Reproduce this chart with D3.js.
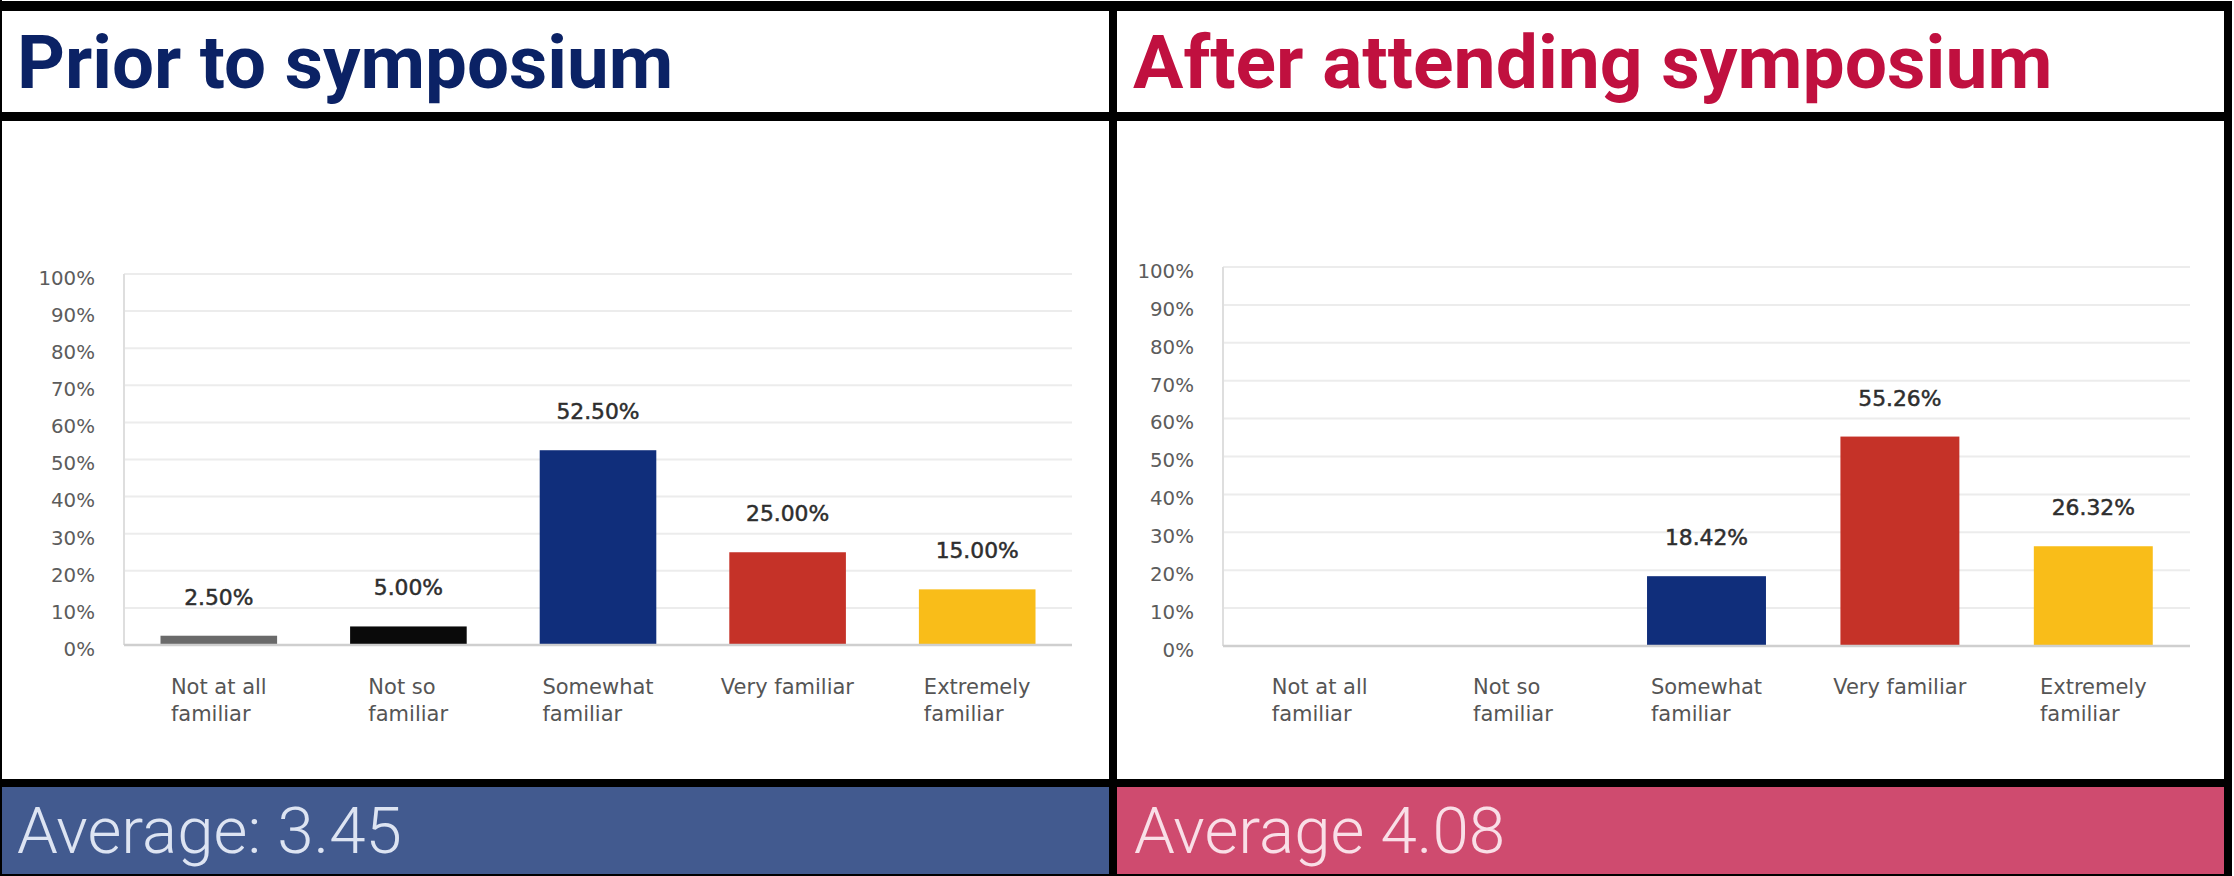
<!DOCTYPE html>
<html>
<head>
<meta charset="utf-8">
<script src="https://cdn.jsdelivr.net/npm/d3@7"></script>
<style>
  html, body { margin: 0; padding: 0; background: #ffffff; }
  svg { display: block; }
</style>
</head>
<body>
<svg id="chart" width="2234" height="876"></svg>
<script>
// ---------- DATA ----------
const categories = ["Not at all familiar", "Not so familiar", "Somewhat familiar", "Very familiar", "Extremely familiar"];
const categoryLines = [["Not at all", "familiar"], ["Not so", "familiar"], ["Somewhat", "familiar"], ["Very familiar"], ["Extremely", "familiar"]];
const priorValues = [2.50, 5.00, 52.50, 25.00, 15.00];
const afterValues = [0, 0, 18.42, 55.26, 26.32];
const yTickValues = [0, 10, 20, 30, 40, 50, 60, 70, 80, 90, 100];
const barColors = ["#6a6a6a", "#0a0a0a", "#102e7b", "#c53228", "#f9bd19"];
const priorTitle = "Prior to symposium";
const afterTitle = "After attending symposium";
const priorAverage = "Average: 3.45";
const afterAverage = "Average 4.08";

// ---------- LAYOUT ----------
const svg = d3.select("#chart");
const W = 2234, H = 876;

svg.append("rect").attr("x", 0).attr("y", 0).attr("width", W).attr("height", H).attr("fill", "#ffffff");

// bottom bands
svg.append("rect").attr("x", 2).attr("y", 787).attr("width", 1107).attr("height", 89).attr("fill", "#425a8f");
svg.append("rect").attr("x", 1117).attr("y", 787).attr("width", 1107).attr("height", 89).attr("fill", "#cf4b6f");

// frame lines (black)
const frame = [
  {x: 0, y: 1, w: 2232, h: 10},       // top
  {x: 0, y: 0, w: 2, h: 876},         // left
  {x: 2224, y: 1, w: 8, h: 875},      // right
  {x: 0, y: 112, w: 2232, h: 9},      // under title
  {x: 0, y: 779, w: 2232, h: 8},      // above bottom band
  {x: 1109, y: 1, w: 8, h: 875},      // divider
  {x: 0, y: 874, w: 2232, h: 2}       // bottom
];
svg.selectAll("rect.frame").data(frame).enter().append("rect")
  .attr("class", "frame")
  .attr("x", d => d.x).attr("y", d => d.y).attr("width", d => d.w).attr("height", d => d.h)
  .attr("fill", "#000000");

// titles
svg.append("text").attr("x", 17).attr("y", 88)
  .attr("font-family", "Roboto").attr("font-weight", 700).attr("font-size", 74.5)
  .attr("fill", "#0b2265").text(priorTitle);
svg.append("text").attr("x", 1133).attr("y", 88)
  .attr("font-family", "Roboto").attr("font-weight", 700).attr("font-size", 75)
  .attr("fill", "#c0103f").text(afterTitle);

// averages
svg.append("text").attr("x", 17).attr("y", 853)
  .attr("font-family", "Roboto").attr("font-weight", 300).attr("font-size", 65.5)
  .attr("fill", "#dde4f2").text(priorAverage);
svg.append("text").attr("x", 1134).attr("y", 853)
  .attr("font-family", "Roboto").attr("font-weight", 300).attr("font-size", 65.5)
  .attr("fill", "#f9dfe7").text(afterAverage);

// ---------- CHARTS ----------
function drawChart(values, box) {
  const g = svg.append("g");
  const x = d3.scaleBand().domain(categories).range([box.left, box.right]).paddingInner(0.385).paddingOuter(0.1925);
  const y = d3.scaleLinear().domain([0, 100]).range([box.bottom, box.top]);

  // gridlines
  g.append("g").selectAll("line").data(yTickValues.filter(v => v > 0)).enter().append("line")
    .attr("x1", box.left).attr("x2", box.right)
    .attr("y1", d => y(d)).attr("y2", d => y(d))
    .attr("stroke", "#ececec").attr("stroke-width", 2);

  // y axis line
  g.append("line").attr("x1", box.left).attr("x2", box.left)
    .attr("y1", y(100)).attr("y2", y(0)).attr("stroke", "#dedede").attr("stroke-width", 2);

  // y axis tick labels via d3 axis
  const yAxis = d3.axisLeft(y).tickValues(yTickValues).tickFormat(d => d + "%").tickSize(0).tickPadding(29);
  const ya = g.append("g").attr("transform", `translate(${box.left},4)`).call(yAxis);
  ya.select(".domain").remove();
  ya.selectAll("text").attr("font-family", "DejaVu Sans").attr("font-size", 19.8).attr("fill", "#5c5c5c");

  // bars
  g.append("g").selectAll("rect").data(values).enter().append("rect")
    .attr("x", (d, i) => x(categories[i]))
    .attr("width", x.bandwidth())
    .attr("y", d => y(d))
    .attr("height", d => y(0) - y(d))
    .attr("fill", (d, i) => barColors[i]);

  // baseline
  g.append("line").attr("x1", box.left).attr("x2", box.right)
    .attr("y1", y(0)).attr("y2", y(0)).attr("stroke", "#cfcfcf").attr("stroke-width", 2.5);

  // value labels
  const lab = g.append("g");
  values.forEach((v, i) => {
    if (v <= 0) return;
    lab.append("text")
      .attr("x", x(categories[i]) + x.bandwidth() / 2)
      .attr("y", y(v) - 31)
      .attr("text-anchor", "middle")
      .attr("font-family", "DejaVu Sans").attr("font-size", 21.8)
      .attr("fill", "#2e2e2e").attr("stroke", "#2e2e2e").attr("stroke-width", 0.5)
      .text(v.toFixed(2) + "%");
  });

  // x category labels (left aligned lines, block centred)
  categoryLines.forEach((lines, i) => {
    const t = g.append("text")
      .attr("font-family", "DejaVu Sans").attr("font-size", 21).attr("fill", "#555555");
    lines.forEach((ln, k) => {
      t.append("tspan").attr("x", 0).attr("y", 694 + k * 26.5).text(ln);
    });
    const bw = t.node().getBBox().width;
    const cx = x(categories[i]) + x.bandwidth() / 2;
    t.attr("transform", `translate(${cx - bw / 2},0)`);
  });
}

drawChart(priorValues, {left: 124, right: 1072, top: 274, bottom: 645});
drawChart(afterValues, {left: 1223, right: 2190, top: 267, bottom: 646});
</script>
</body>
</html>
